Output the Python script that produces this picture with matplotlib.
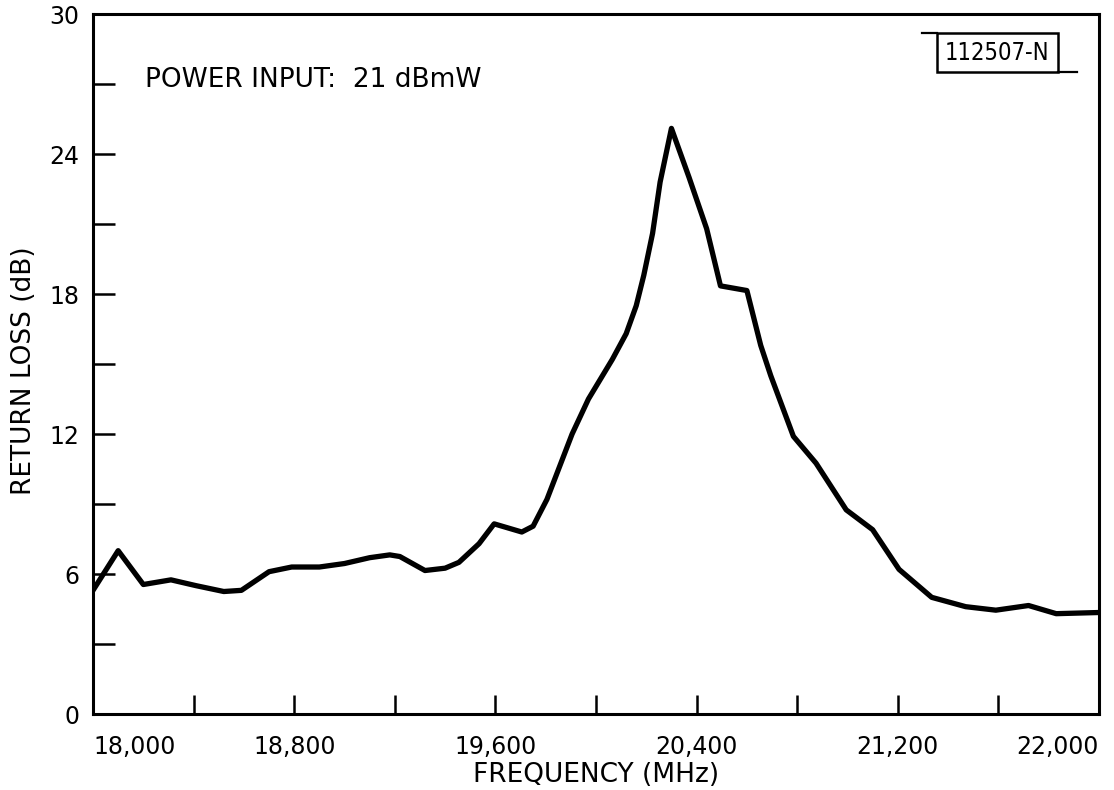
import numpy as np
import matplotlib
matplotlib.use('Agg')
import matplotlib.pyplot as plt
from matplotlib.patches import Rectangle

# =============================================================================
# DATA
# =============================================================================
freq_mhz = [18000, 18100, 18200, 18310, 18410, 18520, 18590, 18700, 18790, 18900,
            19000, 19100, 19180, 19220, 19270, 19320, 19400, 19455, 19535, 19595,
            19705, 19750, 19805, 19855, 19905, 19970, 20065, 20120, 20160, 20190,
            20225, 20255, 20300, 20370, 20440, 20495, 20600, 20655, 20695, 20785,
            20875, 20995, 21100, 21205, 21335, 21470, 21590, 21720, 21830, 22000]
return_loss_db = [5.3, 7.0, 5.55, 5.75, 5.5, 5.25, 5.3, 6.1, 6.3, 6.3,
                  6.45, 6.7, 6.82, 6.75, 6.45, 6.15, 6.25, 6.5, 7.3, 8.15,
                  7.8, 8.05, 9.2, 10.6, 12.0, 13.5, 15.2, 16.3, 17.5, 18.8,
                  20.6, 22.8, 25.1, 23.0, 20.8, 18.35, 18.15, 15.8, 14.5, 11.9,
                  10.75, 8.75, 7.9, 6.2, 5.0, 4.6, 4.45, 4.65, 4.3, 4.35]

x_major = [18000, 18800, 19600, 20400, 21200, 22000]
x_major_labels = ['18,000', '18,800', '19,600', '20,400', '21,200', '22,000']
x_minor = [18400, 19200, 20000, 20800, 21600]
y_major = [0, 6, 12, 18, 24, 30]
y_minor = [3, 9, 15, 21, 27]

note_text = 'POWER INPUT:  21 dBmW'
tag_text = '112507-N'

# =============================================================================
# PLOT
# =============================================================================
fig = plt.figure(figsize=(11.14, 7.9), dpi=100)
ax = fig.add_axes([0.0835, 0.0962, 0.903, 0.886])

ax.plot(freq_mhz, return_loss_db, color='black', lw=3.8,
        solid_joinstyle='round', solid_capstyle='round')

ax.set_xlim(18000, 22000)
ax.set_ylim(0, 30)

for s in ax.spines.values():
    s.set_linewidth(2.2)

ax.set_xticks(x_major)
ax.set_xticklabels(x_major_labels)
ax.set_xticks(x_minor, minor=True)
ax.set_yticks(y_major)
ax.set_yticks(y_minor, minor=True)

ax.tick_params(axis='both', which='both', direction='in', width=1.8,
               top=False, right=False)
ax.tick_params(axis='x', which='both', length=14, pad=15, labelsize=17)
ax.tick_params(axis='y', which='both', length=16, pad=10, labelsize=17)

# first / last x labels sit inside the frame edges like the original
xl = ax.get_xticklabels()
xl[0].set_ha('left')
xl[-1].set_ha('right')

ax.set_xlabel('FREQUENCY (MHz)', fontsize=19, va='center')
ax.set_ylabel('RETURN LOSS (dB)', fontsize=19, va='center')
ax.xaxis.set_label_coords(0.5, -0.087)
ax.yaxis.set_label_coords(-0.0686, 0.49)

ax.text(0.052, 0.906, note_text, transform=ax.transAxes, fontsize=19,
        ha='left', va='center')

# drawing number tab in the top right corner
ax.add_patch(Rectangle((0.839, 0.917), 0.120, 0.056, transform=ax.transAxes,
                       facecolor='white', edgecolor='black', lw=1.8))
ax.text(0.899, 0.945, tag_text, transform=ax.transAxes, fontsize=17,
        ha='center', va='center', fontstretch='condensed')
ax.plot([0.824, 0.839], [0.973, 0.973], transform=ax.transAxes, color='black', lw=1.6)
ax.plot([0.959, 0.978], [0.917, 0.917], transform=ax.transAxes, color='black', lw=1.6)

fig.savefig('out.png', dpi=100)
